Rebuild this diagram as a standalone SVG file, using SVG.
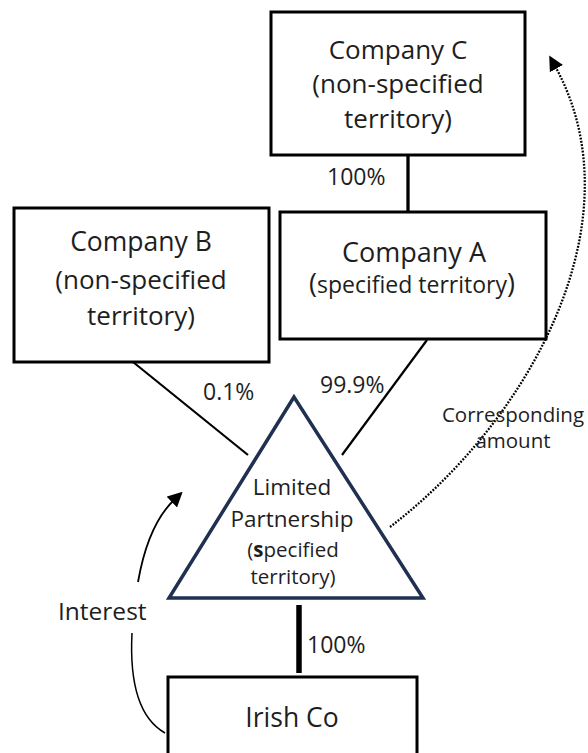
<svg xmlns="http://www.w3.org/2000/svg" width="588" height="753" viewBox="0 0 588 753">
<defs>
<style>
.box{fill:#fff;stroke:#000;stroke-width:3}
.t{font-family:"Open Sans","Liberation Sans",sans-serif;fill:#1e1e1e;text-anchor:middle}
.lbl{font-family:"Open Sans","Liberation Sans",sans-serif;fill:#1e1e1e}
.ln{stroke:#000;fill:none}
</style>
<marker id="ah2" viewBox="0 0 10 10" refX="2" refY="5" markerWidth="15" markerHeight="15" markerUnits="userSpaceOnUse" orient="auto">
<path d="M0,0 L10,5 L0,10 z" fill="#000"/>
</marker>
</defs>
<rect width="588" height="753" fill="#fff"/>
<g id="connectors">
<line class="ln" x1="408" y1="155" x2="408" y2="212" stroke-width="3.3"/>
<line class="ln" x1="133" y1="362" x2="248" y2="455" stroke-width="2.2"/>
<line class="ln" x1="427" y1="340" x2="342" y2="455" stroke-width="2.2"/>
<line class="ln" x1="299" y1="605" x2="299" y2="673" stroke-width="5.5"/>
<path class="ln" d="M390,527 C530,420 640,220 555,66" stroke-width="2.3" stroke-dasharray="1.8 1.5" marker-end="url(#ah2)"/>
<path class="ln" d="M138,582 Q148,525 174,500" stroke-width="1.8" marker-end="url(#ah2)"/>
<path class="ln" d="M132,633 Q128,712 165,733" stroke-width="1.5"/>
<text class="lbl" x="327" y="185" font-size="23">100%</text>
<text class="lbl" x="203" y="400" font-size="23">0.1%</text>
<text class="lbl" x="320" y="393" font-size="23">99.9%</text>
<text class="lbl" x="307" y="653" font-size="23">100%</text>
<text class="t" x="513" y="422" font-size="20.5">Corresponding</text>
<text class="t" x="513" y="448" font-size="20.5">amount</text>
<text class="lbl" x="58" y="620" font-size="24.5">Interest</text>
</g>
<g id="company-c">
<rect class="box" x="271" y="12" width="254" height="143"/>
<text class="t" x="398" y="59" font-size="26">Company C</text>
<text class="t" x="398" y="93" font-size="26">(non-specified</text>
<text class="t" x="398" y="128" font-size="26">territory)</text>
</g>
<g id="company-b">
<rect class="box" x="14" y="208" width="255" height="154"/>
<text class="t" x="141" y="251" font-size="26.5">Company B</text>
<text class="t" x="141" y="289" font-size="26">(non-specified</text>
<text class="t" x="141" y="325" font-size="26">territory)</text>
</g>
<g id="company-a">
<rect class="box" x="280" y="212" width="266" height="127"/>
<text class="t" x="414" y="262" font-size="27">Company A</text>
<text class="t" x="412" y="293" font-size="23"><tspan font-size="27">(</tspan>specified territory<tspan font-size="27">)</tspan></text>
</g>
<g id="limited-partnership">
<polygon points="294,397 169,598 423,598" fill="#fff" stroke="#1f3050" stroke-width="3.5" stroke-linejoin="miter"/>
<text class="t" x="292" y="495" font-size="22.5">Limited</text>
<text class="t" x="292" y="527" font-size="22.5">Partnership</text>
<text class="t" x="293" y="557" font-size="20.5">(<tspan font-weight="bold">s</tspan>pecified</text>
<text class="t" x="293" y="584" font-size="20.5">territory)</text>
</g>
<g id="irish-co">
<rect class="box" x="168" y="677" width="249" height="90"/>
<text class="t" x="292" y="727" font-size="26.5">Irish Co</text>
</g>
</svg>
